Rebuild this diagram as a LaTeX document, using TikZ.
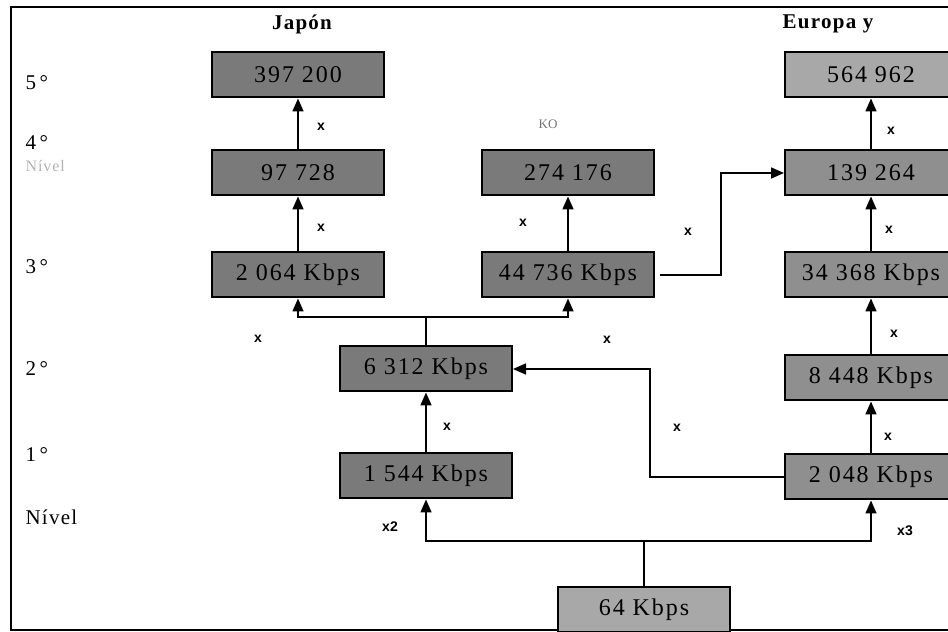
\documentclass[tikz,border=0pt]{standalone}
\usepackage{fontspec}
\setmainfont{Liberation Serif}
\newfontfamily\factorfont{Liberation Sans}
\newfontfamily\ratefont[LetterSpace=8]{Liberation Serif}
\newfontfamily\levelfont[LetterSpace=6]{Liberation Serif}
\usetikzlibrary{positioning, arrows.meta}

\begin{document}
\begin{tikzpicture}[
  x=1pt, y=1pt,
  font=\ratefont\fontsize{24}{26}\selectfont,
  rate/.style={draw, line width=2pt, fill=black!52, minimum width=172pt,
    minimum height=45pt, inner sep=0pt},
  ratemid/.style={rate, fill=black!44},
  ratelight/.style={rate, fill=black!34},
  link/.style={line width=1.6pt, -{Triangle[length=13pt, width=11pt]}},
  wire/.style={line width=1.6pt},
  factor/.style={font=\factorfont\bfseries\fontsize{14}{14}\selectfont},
  level/.style={anchor=west, font=\levelfont\fontsize{21}{22}\selectfont},
  region/.style={font=\levelfont\bfseries\fontsize{21}{22}\selectfont},
]
  \useasboundingbox (0,0) rectangle (948,632);
  \clip (0,0) rectangle (948,632);
  \draw[line width=1.6pt] (11,2) rectangle (965,625);

  % Level labels on the left
  \node[level] (n5) at (22,549) {5\,°};
  \node[level] (n4) at (22,489) {4\,°};
  \node[level, text=black!30, font=\levelfont\fontsize{16}{16}\selectfont] (n4b) at (22,466) {Nível};
  \node[level] (n3) at (22,365) {3\,°};
  \node[level] (n2) at (22,263) {2\,°};
  \node[level] (n1) at (22,177) {1\,°};
  \node[level] (nv) at (22,115) {Nível};

  % Region headings
  \node[region] (hjp) at (302,608) {Japón};
  \node[font=\fontsize{13}{13}\selectfont, text=black!55] (hko) at (548,508) {KO};
  \node[region] (heu) at (828,608) {Europa y};

  % Japan column
  \node[rate] (j5) at (298,557) {397 200};
  \node[rate, below=51pt of j5] (j4) {97 728};
  \node[rate, below=55pt of j4] (j3) {2 064 Kbps};
  % Middle column
  \node[rate, right=96pt of j4] (k4) {274 176};
  \node[rate, below=55pt of k4] (k3) {44 736 Kbps};
  % Europe column
  \node[ratelight] (e5) at (871,557) {564 962};
  \node[ratemid, below=51pt of e5] (e4) {139 264};
  \node[ratemid, below=55pt of e4] (e3) {34 368 Kbps};
  \node[ratemid] (e2) at (871,254) {8 448 Kbps};
  \node[ratemid] (e1) at (871,155) {2 048 Kbps};
  % Lower levels
  \node[rate] (m2) at (426,263) {6 312 Kbps};
  \node[rate] (m1) at (426,156) {1 544 Kbps};
  \node[ratelight] (r0) at (644,22.5) {64 Kbps};

  % Turning points of the connectors
  \path (r0.north) ++(0,45) coordinate (rb);
  \path (m2.north) ++(0,28.5) coordinate (mb);
  \coordinate (turnA) at (650,0);
  \coordinate (turnB) at (721,0);

  % Connectors
  \draw[wire] (r0) -- (rb);
  \draw[link] (rb) -| (m1);
  \draw[link] (rb) -| (e1);
  \draw[link] (m1) -- (m2);
  \draw[wire] (m2) -- (mb);
  \draw[link] (mb) -| (j3);
  \draw[link] (mb) -| (k3);
  \draw[link] (e1.west) -| (turnA |- m2.east) -- (m2.east);
  \draw[link] (e1) -- (e2);
  \draw[link] (e2) -- (e3);
  \draw[link] (e3) -- (e4);
  \draw[link] (e4) -- (e5);
  \draw[link] ([xshift=5pt]k3.east) -| (turnB |- e4.west) -- (e4.west);
  \draw[link] (k3) -- (k4);
  \draw[link] (j3) -- (j4);
  \draw[link] (j4) -- (j5);

  % Multiplying factors
  \node[factor] (x1) at (321,505) {x};
  \node[factor] (x2) at (321,404) {x};
  \node[factor] (x3) at (523,409) {x};
  \node[factor] (x4) at (688,400) {x};
  \node[factor] (x5) at (891,501) {x};
  \node[factor] (x6) at (889,402) {x};
  \node[factor] (x7) at (894,298) {x};
  \node[factor] (x8) at (888,195) {x};
  \node[factor] (x9) at (258,293) {x};
  \node[factor] (x10) at (607,292) {x};
  \node[factor] (x11) at (447,205) {x};
  \node[factor] (x12) at (677,204) {x};
  \node[factor] (x13) at (390,105) {x2};
  \node[factor] (x14) at (905,101) {x3};
\end{tikzpicture}
\end{document}
